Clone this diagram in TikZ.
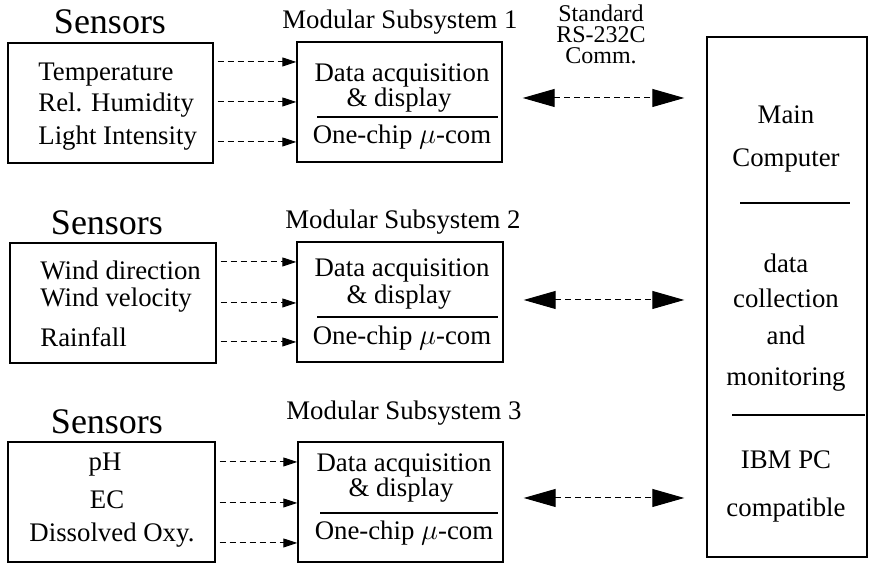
\documentclass[tikz,border=0pt]{standalone}
\usepackage{fontspec}
\setmainfont{Liberation Serif}
\usetikzlibrary{arrows.meta,positioning,fit}

\tikzset{
  unitbox/.style={draw, line width=0.7pt, inner sep=0pt},
  txt/.style={font=\fontsize{13.4}{15}\selectfont, inner sep=0pt},
  head/.style={font=\fontsize{18}{20}\selectfont, inner sep=0pt},
  sig/.style={densely dashed, line width=0.5pt, shorten <=2pt,
    -{Triangle[length=7pt,width=4.5pt]}},
  link/.style={densely dashed, line width=0.5pt, shorten <=10pt, shorten >=11pt,
    {Triangle[length=16pt,width=9pt]}-{Triangle[length=16pt,width=9pt]}},
  sep/.style={line width=0.9pt}
}

\begin{document}
\begin{tikzpicture}[x=0.5pt, y=-0.5pt]
  \useasboundingbox (0,0) rectangle (875,565);

  % sensor groups
  \node[head] (hd1) at (110,22) {Sensors};
  \node[head] (hd2) at (107,223) {Sensors};
  \node[head] (hd3) at (107,422) {Sensors};

  \node[unitbox, fit={(8,43) (213,163)}] (sen1) {};
  \node[unitbox, fit={(10,243) (216,363)}] (sen2) {};
  \node[unitbox, fit={(8,442) (215,562)}] (sen3) {};

  \node[txt, anchor=west] (temp) at (38,75) {Temperature};
  \node[txt, anchor=west] (hum) at (38,105) {Rel. Humidity};
  \node[txt, anchor=west] (light) at (38,138) {Light Intensity};

  \node[txt, anchor=west] (wdir) at (40,270) {Wind direction};
  \node[txt, anchor=west] (wvel) at (40,300) {Wind velocity};
  \node[txt, anchor=west] (rain) at (40,337) {Rainfall};

  \node[txt] (ph) at (105,465) {pH};
  \node[txt] (ec) at (107,500) {EC};
  \node[txt] (oxy) at (112,535) {Dissolved Oxy.};

  % modular subsystems
  \node[txt] (ttl1) at (400,22) {Modular Subsystem 1};
  \node[txt] (ttl2) at (403,222) {Modular Subsystem 2};
  \node[txt] (ttl3) at (404,413) {Modular Subsystem 3};

  \node[unitbox, fit={(297,42) (502,162)}] (sub1) {};
  \node[unitbox, fit={(297,242) (503,362)}] (sub2) {};
  \node[unitbox, fit={(298,442) (503,562)}] (sub3) {};

  \node[txt] (acq1) at (402,75) {Data acquisition};
  \node[txt] (dsp1) at (399,100) {\& display};
  \draw[sep] (317,117) -- (498,117);
  \node[txt] (mcu1) at (402,137) {One-chip $\mu$-com};

  \node[txt] (acq2) at (402,270) {Data acquisition};
  \node[txt] (dsp2) at (399,297) {\& display};
  \draw[sep] (317,317) -- (498,317);
  \node[txt] (mcu2) at (402,338) {One-chip $\mu$-com};

  \node[txt] (acq3) at (404,465) {Data acquisition};
  \node[txt] (dsp3) at (401,490) {\& display};
  \draw[sep] (320,513) -- (498,513);
  \node[txt] (mcu3) at (404,533) {One-chip $\mu$-com};

  % main computer
  \node[unitbox, fit={(707,37) (867,557)}] (main) {};
  \node[txt] (mn1) at (786,115) {Main};
  \node[txt] (mn2) at (786,160) {Computer};
  \draw[sep] (740,203) -- (850,203);
  \node[txt] (mn3) at (786,263) {data};
  \node[txt] (mn4) at (786,298) {collection};
  \node[txt] (mn5) at (786,335) {and};
  \node[txt] (mn6) at (786,380) {monitoring};
  \draw[sep] (732,415) -- (865,415);
  \node[txt] (mn7) at (786,460) {IBM PC};
  \node[txt] (mn8) at (786,510) {compatible};

  \node[txt, align=center, font={\fontsize{12}{10.5}\selectfont\lineskiplimit=-20pt}]
    (std) at (601,34) {Standard\\RS-232C\\Comm.};

  % signal lines
  \coordinate (p11) at (250,62);
  \coordinate (p12) at (250,102);
  \coordinate (p13) at (250,142);
  \coordinate (p21) at (250,262);
  \coordinate (p22) at (250,303);
  \coordinate (p23) at (250,342);
  \coordinate (p31) at (250,462);
  \coordinate (p32) at (250,503);
  \coordinate (p33) at (250,543);

  \draw[sig] (sen1.east |- p11) -- (sub1.west |- p11);
  \draw[sig] (sen1.east |- p12) -- (sub1.west |- p12);
  \draw[sig] (sen1.east |- p13) -- (sub1.west |- p13);
  \draw[sig] (sen2.east |- p21) -- (sub2.west |- p21);
  \draw[sig] (sen2.east |- p22) -- (sub2.west |- p22);
  \draw[sig] (sen2.east |- p23) -- (sub2.west |- p23);
  \draw[sig] (sen3.east |- p31) -- (sub3.west |- p31);
  \draw[sig] (sen3.east |- p32) -- (sub3.west |- p32);
  \draw[sig] (sen3.east |- p33) -- (sub3.west |- p33);

  % RS-232C links
  \coordinate (c1) at (600,98);
  \coordinate (c2) at (600,300);
  \coordinate (c3) at (600,498);

  \draw[link] (sub1.east |- c1) -- (main.west |- c1);
  \draw[link] (sub2.east |- c2) -- (main.west |- c2);
  \draw[link] (sub3.east |- c3) -- (main.west |- c3);

\end{tikzpicture}
\end{document}
